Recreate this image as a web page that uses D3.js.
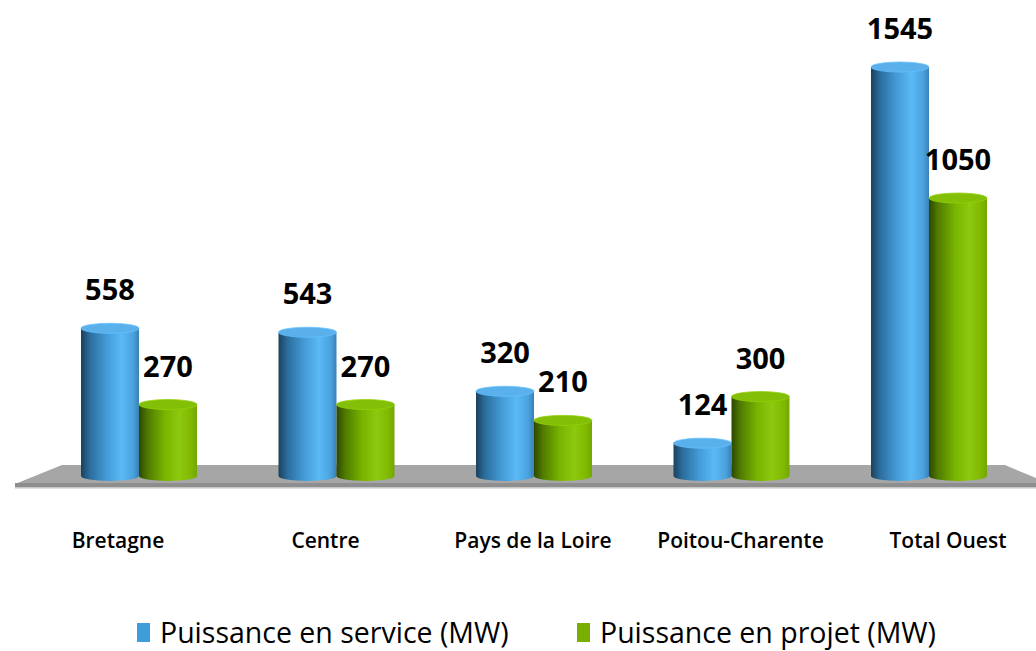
<!DOCTYPE html>
<html>
<head>
<meta charset="utf-8">
<script src="https://cdn.jsdelivr.net/npm/d3@7"></script>
<style>
  body { margin: 0; background: #fff; }
  svg { display: block; }
</style>
</head>
<body>
<div id="chart"></div>
<script>
const width = 1036;
const height = 651;

const categories = ["Bretagne", "Centre", "Pays de la Loire", "Poitou-Charente", "Total Ouest"];
const seriesNames = ["Puissance en service (MW)", "Puissance en projet (MW)"];
const enService = [558, 543, 320, 124, 1545];
const enProjet = [270, 270, 210, 300, 1050];

const seriesColors = [
  { id: "blue", legend: "#3f9ddb", top: "#5ab0ea",
    stops: ["#1b405c", "#2b6c9c", "#449cd8", "#5bb9f5", "#4aa2dd", "#3a80b6"] },
  { id: "green", legend: "#79b000", top: "#84bf08",
    stops: ["#2e4800", "#4f7a00", "#79b500", "#8dc90e", "#80b800", "#73a600"] }
];

const baseY = 476;
const ry = 5;

const svg = d3.select("#chart").append("svg")
  .attr("width", width)
  .attr("height", height);

const defs = svg.append("defs");
seriesColors.forEach(c => {
  let g = defs.append("linearGradient")
    .attr("id", "grad-" + c.id)
    .attr("x1", 0).attr("x2", 1).attr("y1", 0).attr("y2", 0);
  let offsets = [0, 0.15, 0.45, 0.7, 0.9, 1];
  g.selectAll("stop")
    .data(c.stops)
    .join("stop")
    .attr("offset", (d, i) => offsets[i])
    .attr("stop-color", d => d);
});

// scales
const x = d3.scaleBand()
  .domain(categories)
  .range([81, 987])
  .paddingInner(0.4127)
  .paddingOuter(0);

const xSeries = d3.scaleBand()
  .domain(d3.range(seriesNames.length))
  .range([0, x.bandwidth()])
  .padding(0);

const xLabel = d3.scalePoint()
  .domain(categories)
  .range([118, 948]);

const y = d3.scaleLinear()
  .domain([0, 1545])
  .range([baseY, 67]);

// floor
svg.append("polygon")
  .attr("points", "62,465 1005,465 1050,484 15,484")
  .attr("fill", "#a6a6a6");
svg.append("rect")
  .attr("x", 15).attr("y", 483)
  .attr("width", width - 15).attr("height", 4)
  .attr("fill", "#8e8e8e");
svg.append("rect")
  .attr("x", 15).attr("y", 487)
  .attr("width", width - 15).attr("height", 1.5)
  .attr("fill", "#c8c8c8");

const bars = [];
categories.forEach((cat, i) => {
  [enService[i], enProjet[i]].forEach((v, s) => {
    bars.push({ cat, s, v });
  });
});

// per category, blue then green so green sits in front
const cyl = svg.selectAll(".cyl")
  .data(bars)
  .join("g")
  .attr("class", "cyl");

cyl.each(function (d) {
  let g = d3.select(this);
  let x0 = x(d.cat) + xSeries(d.s);
  let w = xSeries.bandwidth();
  let rx = w / 2;
  let yTop = y(d.v);
  let c = seriesColors[d.s];
  g.append("path")
    .attr("d", `M${x0},${yTop} L${x0},${baseY} A${rx},${ry} 0 0 0 ${x0 + w},${baseY} L${x0 + w},${yTop} Z`)
    .attr("fill", `url(#grad-${c.id})`);
  g.append("ellipse")
    .attr("cx", x0 + rx).attr("cy", yTop)
    .attr("rx", rx).attr("ry", ry)
    .attr("fill", c.top)
    .attr("stroke", d3.color(c.top).brighter(0.25))
    .attr("stroke-width", 0.8);
});

// value labels
svg.selectAll(".val")
  .data(bars)
  .join("text")
  .attr("class", "val")
  .attr("x", d => x(d.cat) + xSeries(d.s) + xSeries.bandwidth() / 2)
  .attr("y", d => y(d.v) - 28)
  .attr("text-anchor", "middle")
  .attr("font-family", "'Open Sans', sans-serif")
  .attr("font-weight", "bold")
  .attr("font-size", 29)
  .attr("fill", "#000")
  .text(d => d.v);

// category labels
svg.selectAll(".cat")
  .data(categories)
  .join("text")
  .attr("class", "cat")
  .attr("x", d => xLabel(d))
  .attr("y", 548)
  .attr("text-anchor", "middle")
  .attr("font-family", "'Open Sans', sans-serif")
  .attr("font-weight", 600)
  .attr("font-size", 21)
  .attr("fill", "#000")
  .text(d => d);

// legend
const legendX = [137, 577];
const legend = svg.selectAll(".legend")
  .data(seriesNames)
  .join("g")
  .attr("class", "legend")
  .attr("transform", (d, i) => `translate(${legendX[i]},0)`);
legend.append("rect")
  .attr("x", 0).attr("y", 623)
  .attr("width", 13).attr("height", 19)
  .attr("fill", (d, i) => seriesColors[i].legend);
legend.append("text")
  .attr("x", 23).attr("y", 643)
  .attr("font-family", "'Open Sans', sans-serif")
  .attr("font-size", 28.5)
  .attr("fill", "#000")
  .text(d => d);
</script>
</body>
</html>
